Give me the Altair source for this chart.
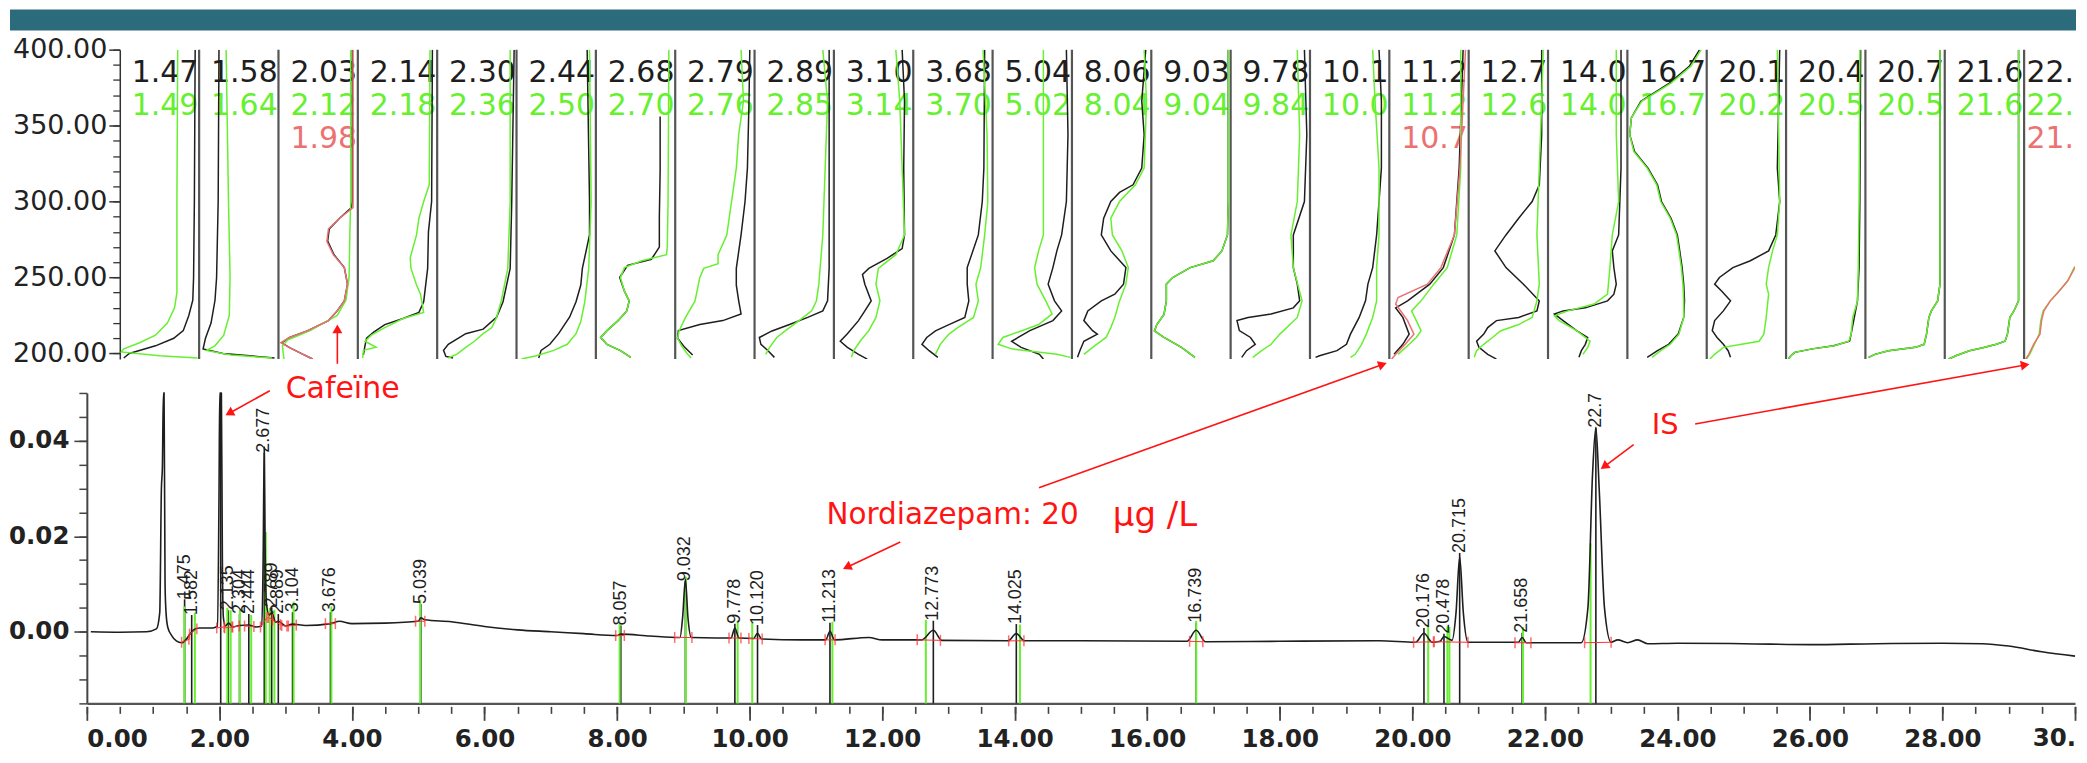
import math
import altair as alt
import pandas as pd

# ---------------- colours ----------------
BANNER = "#2c6b7c"
INK = "#1e1e1e"
LIME = "#66f030"
SALMON = "#ec7272"
RED = "#ff1414"

# ---------------- spectra panels (wavelength nm, relative position in panel) ----------------
BLACK_LABELS = ["1.47", "1.58", "2.03", "2.14", "2.30", "2.44", "2.68", "2.79", "2.89", "3.10",
                "3.68", "5.04", "8.06", "9.03", "9.78", "10.1", "11.2", "12.7", "14.0", "16.7",
                "20.1", "20.4", "20.7", "21.6", "22."]
GREEN_LABELS = ["1.49", "1.64", "2.12", "2.18", "2.36", "2.50", "2.70", "2.76", "2.85", "3.14",
                "3.70", "5.02", "8.04", "9.04", "9.84", "10.0", "11.2", "12.6", "14.0", "16.7",
                "20.2", "20.5", "20.5", "21.6", "22."]
RED_PANELS = [2, 16, 24]
RED_LABELS = ["1.98", "10.7", "21."]

GREEN_CURVES = [
    [(400, 0.73), (300, 0.72), (240, 0.72), (230, 0.69), (220, 0.60), (212, 0.45), (207, 0.25), (203, 0.05), (201, 0.02), (198.5, 0.5), (197, 0.98)],
    [(400, 0.34), (300, 0.37), (250, 0.39), (225, 0.38), (212, 0.31), (205, 0.20), (202, 0.09), (199, 0.40), (197, 0.92)],
    [(400, 0.91), (300, 0.91), (280, 0.90), (250, 0.89), (235, 0.85), (225, 0.74), (215, 0.40), (209, 0.12), (205, 0.05), (200, 0.06), (196.3, 0.07)],
    [(400, 0.91), (311, 0.90), (300, 0.83), (289, 0.77), (278, 0.74), (263, 0.66), (256, 0.67), (245, 0.74), (239, 0.79), (227, 0.83), (223, 0.57), (217, 0.34), (212, 0.17), (208, 0.09), (204, 0.23), (202, 0.07), (197, 0.06)],
    [(400, 0.92), (300, 0.92), (256, 0.89), (235, 0.81), (224, 0.75), (217, 0.69), (213, 0.58), (208, 0.47), (204, 0.36), (199.5, 0.25), (197, 0.14)],
    [(400, 0.92), (300, 0.94), (256, 0.91), (234, 0.86), (221, 0.81), (213, 0.75), (206, 0.64), (202, 0.47), (198.5, 0.25), (196.3, 0.06)],
    [(400, 0.92), (300, 0.91), (270, 0.90), (265, 0.89), (261, 0.58), (256.5, 0.36), (250, 0.31), (241, 0.36), (234.6, 0.42), (228, 0.39), (221.6, 0.28), (215, 0.14), (210.5, 0.06), (206, 0.14), (201.8, 0.31), (197.4, 0.44)],
    [(400, 0.83), (366, 0.86), (344, 0.80), (322, 0.77), (300, 0.71), (278, 0.65), (265, 0.54), (259, 0.54), (256, 0.36), (250, 0.31), (234.6, 0.25), (223.7, 0.13), (215, 0.05), (210, 0.03), (205, 0.08), (200, 0.15), (197, 0.20)],
    [(400, 0.86), (366, 0.92), (322, 0.89), (278, 0.86), (245.6, 0.81), (234.6, 0.78), (228, 0.72), (221.6, 0.56), (215, 0.39), (210.5, 0.28), (204, 0.19), (199.4, 0.14)],
    [(400, 0.78), (366, 0.83), (322, 0.86), (278, 0.89), (265, 0.78), (256, 0.56), (245.6, 0.53), (234.6, 0.58), (223.7, 0.53), (215, 0.44), (208, 0.33), (201.8, 0.25), (197.4, 0.22)],
    [(400, 0.88), (344, 0.93), (300, 0.94), (278, 0.90), (256.5, 0.85), (245.6, 0.79), (234.6, 0.82), (223.7, 0.76), (217, 0.56), (212.7, 0.45), (206, 0.34), (199.4, 0.28)],
    [(400, 0.64), (300, 0.64), (278, 0.64), (267.5, 0.58), (256.5, 0.53), (245.6, 0.56), (234.6, 0.67), (226, 0.75), (219, 0.58), (214.8, 0.36), (210.5, 0.13), (206, 0.07), (203, 0.24), (199.4, 0.81), (197.4, 0.98)],
    [(400, 0.91), (366, 0.94), (322, 0.91), (311, 0.80), (300, 0.60), (289, 0.49), (278, 0.51), (267.5, 0.63), (256.5, 0.71), (245.6, 0.68), (234.6, 0.60), (223.7, 0.54), (217, 0.49), (210.5, 0.43), (204, 0.26), (199.4, 0.15)],
    [(400, 0.97), (300, 0.97), (278, 0.96), (267.5, 0.89), (261, 0.78), (256.5, 0.49), (250, 0.27), (245.6, 0.19), (234.6, 0.19), (225.7, 0.16), (219, 0.07), (214.8, 0.04), (210.5, 0.16), (204, 0.38), (197.4, 0.55)],
    [(400, 0.84), (344, 0.87), (300, 0.84), (278, 0.76), (256.5, 0.79), (234.6, 0.90), (223.7, 0.84), (212.7, 0.62), (206, 0.51), (201.8, 0.39), (197.4, 0.28)],
    [(400, 0.79), (366, 0.82), (322, 0.87), (278, 0.87), (256.5, 0.84), (234.6, 0.84), (223.7, 0.79), (212.7, 0.71), (206, 0.65), (199.4, 0.57), (197.4, 0.51)],
    [(400, 0.90), (322, 0.90), (278, 0.85), (256.5, 0.73), (245.6, 0.56), (234.6, 0.40), (228, 0.28), (221.6, 0.34), (215, 0.40), (210.5, 0.34), (206, 0.25), (199.4, 0.11)],
    [(400, 0.94), (366, 0.92), (322, 0.89), (278, 0.86), (245.6, 0.89), (234.6, 0.86), (223.7, 0.80), (219, 0.63), (214.8, 0.40), (210.5, 0.30), (206, 0.19), (201.8, 0.10), (197.4, 0.07)],
    [(400, 0.86), (344, 0.86), (300, 0.89), (278, 0.81), (256.5, 0.78), (239, 0.75), (232.5, 0.58), (228, 0.25), (224.7, 0.08), (221.6, 0.14), (215, 0.36), (208, 0.53), (204, 0.50), (199.4, 0.44)],
    [(400, 0.93), (389, 0.80), (378, 0.55), (366, 0.18), (355, 0.05), (344, 0.03), (333, 0.08), (322, 0.25), (311, 0.37), (300, 0.42), (289, 0.54), (278, 0.62), (267.5, 0.65), (256.5, 0.68), (245.6, 0.70), (234.6, 0.71), (223.7, 0.71), (212.7, 0.65), (206, 0.54), (201.8, 0.42), (197.4, 0.31)],
    [(400, 0.89), (300, 0.92), (278, 0.89), (267.5, 0.83), (256.5, 0.78), (245.6, 0.75), (239, 0.78), (223.7, 0.75), (212.7, 0.72), (208, 0.66), (206, 0.44), (204, 0.21), (199.4, 0.10), (196.3, 0.04)],
    [(400, 0.93), (300, 0.92), (256.5, 0.91), (234.6, 0.90), (223.7, 0.84), (212.7, 0.82), (208, 0.79), (205, 0.61), (203, 0.33), (200.7, 0.11), (198.5, 0.06), (196.3, 0.03)],
    [(400, 0.94), (300, 0.94), (245.6, 0.94), (234.6, 0.91), (227.8, 0.83), (223.7, 0.80), (212.7, 0.77), (206, 0.74), (204, 0.63), (201.8, 0.29), (199.4, 0.12), (197.4, 0.04)],
    [(400, 0.93), (300, 0.93), (234.6, 0.93), (227.8, 0.87), (223.7, 0.82), (212.7, 0.79), (208, 0.76), (206, 0.65), (203.8, 0.48), (201.8, 0.31), (198.5, 0.14), (196.3, 0.05)],
    [(196.3, 0.03), (199.4, 0.07), (206, 0.13), (212.7, 0.19), (221.6, 0.21), (228, 0.24), (234.6, 0.33), (241, 0.44), (247.8, 0.55), (256.5, 0.63), (263, 0.76), (275, 0.90), (300, 0.95), (400, 0.96)],
]

BLACK_CURVES = [
    [(400, 0.95), (300, 0.94), (250, 0.93), (235, 0.92), (225, 0.87), (215, 0.80), (210, 0.68), (205, 0.45), (200, 0.12), (197, 0.05)],
    [(400, 0.25), (300, 0.24), (250, 0.22), (235, 0.20), (220, 0.15), (210, 0.08), (203, 0.05), (200, 0.30), (197, 0.95)],
    [(400, 0.93), (300, 0.93), (296, 0.92), (289, 0.77), (282, 0.64), (274, 0.62), (265, 0.70), (256.5, 0.83), (245.6, 0.87), (234.6, 0.83), (228, 0.74), (221.6, 0.63), (215, 0.37), (210.5, 0.14), (207, 0.04), (203.8, 0.14), (199.4, 0.31), (196.3, 0.43)],
    [(400, 0.94), (300, 0.93), (280, 0.89), (256, 0.88), (234, 0.83), (227, 0.77), (223, 0.57), (219, 0.34), (214, 0.20), (210, 0.11), (205, 0.09), (199, 0.07)],
    [(400, 0.97), (300, 0.94), (256, 0.92), (234, 0.83), (224, 0.75), (216, 0.58), (213, 0.36), (206, 0.14), (202, 0.08), (198, 0.11), (197, 0.20)],
    [(400, 0.89), (300, 0.92), (278, 0.92), (256, 0.83), (245, 0.81), (234, 0.75), (224, 0.67), (213, 0.53), (206, 0.42), (202, 0.31), (197, 0.28)],
    [(356, 0.81), (320, 0.81), (290, 0.80), (270, 0.80), (262, 0.70), (258, 0.40), (250, 0.30), (241, 0.36), (234.6, 0.42), (228, 0.39), (221.6, 0.28), (215, 0.14), (210.5, 0.06), (206, 0.14), (201.8, 0.31), (197.4, 0.44)],
    [(400, 0.94), (366, 0.93), (322, 0.91), (300, 0.88), (278, 0.83), (267, 0.80), (256, 0.77), (245, 0.77), (234.6, 0.80), (226, 0.83), (221.6, 0.60), (219, 0.31), (215, 0.04), (210, 0.03), (204, 0.12), (199, 0.22)],
    [(400, 0.94), (300, 0.94), (256, 0.94), (234.6, 0.92), (228, 0.86), (223.7, 0.67), (219, 0.44), (214.8, 0.22), (210.5, 0.06), (206, 0.08), (201.8, 0.17), (197.4, 0.25)],
    [(400, 0.86), (366, 0.89), (322, 0.88), (278, 0.89), (269, 0.86), (262.6, 0.67), (256, 0.44), (252, 0.36), (245.6, 0.39), (234.6, 0.47), (228, 0.39), (221.6, 0.31), (213, 0.17), (208, 0.08), (204, 0.17), (199.4, 0.31), (196.3, 0.42)],
    [(400, 0.90), (322, 0.89), (300, 0.87), (278, 0.82), (256.5, 0.68), (245.6, 0.68), (234.6, 0.70), (223.7, 0.65), (219, 0.45), (214.8, 0.28), (210.5, 0.17), (206, 0.11), (201.8, 0.20), (197.4, 0.31)],
    [(400, 0.93), (344, 0.95), (300, 0.93), (278, 0.87), (267.5, 0.81), (256.5, 0.76), (245.6, 0.70), (234.6, 0.78), (228, 0.87), (221.6, 0.76), (215, 0.47), (208, 0.24), (204, 0.36), (199.4, 0.59), (196.3, 0.64)],
    [(400, 0.93), (366, 0.88), (344, 0.91), (322, 0.88), (311, 0.77), (306, 0.60), (300, 0.49), (289, 0.40), (278, 0.37), (267.5, 0.49), (256.5, 0.68), (245.6, 0.65), (239, 0.54), (234.6, 0.37), (228, 0.20), (221.6, 0.15), (215, 0.26), (212.7, 0.32), (208, 0.15), (201.8, 0.10), (197.4, 0.07)],
    GREEN_CURVES[13],
    [(400, 0.93), (344, 0.96), (300, 0.93), (278, 0.79), (256.5, 0.79), (245.6, 0.84), (234.6, 0.87), (230, 0.79), (226, 0.51), (223.7, 0.22), (221.6, 0.08), (215, 0.11), (210.5, 0.25), (206, 0.31), (201.8, 0.20), (197.4, 0.14)],
    [(400, 0.87), (366, 0.90), (322, 0.90), (278, 0.84), (256.5, 0.79), (245.6, 0.73), (234.6, 0.70), (223.7, 0.62), (212.7, 0.51), (206, 0.46), (201.8, 0.34), (198.5, 0.12), (197.4, 0.07)],
    [(400, 0.93), (322, 0.88), (278, 0.82), (256.5, 0.68), (245.6, 0.51), (234.6, 0.23), (230, 0.08), (223.7, 0.17), (212.7, 0.25), (206, 0.17), (199.4, 0.06)],
    [(400, 0.92), (344, 0.92), (311, 0.89), (300, 0.80), (289, 0.63), (278, 0.47), (267.5, 0.33), (256.5, 0.47), (245.6, 0.69), (234.6, 0.89), (228, 0.86), (223.7, 0.63), (221.6, 0.35), (217, 0.24), (212.7, 0.19), (208, 0.10), (204, 0.13), (199.4, 0.24), (196.3, 0.35)],
    [(400, 0.92), (322, 0.92), (278, 0.89), (267.5, 0.81), (256.5, 0.83), (245.6, 0.86), (239, 0.83), (234.6, 0.75), (230, 0.47), (228, 0.19), (226, 0.08), (221.6, 0.19), (215, 0.36), (210.5, 0.50), (206, 0.47), (201.8, 0.42), (197.4, 0.39)],
    [(400, 0.91), (389, 0.78), (378, 0.53), (366, 0.17), (355, 0.05), (344, 0.03), (333, 0.09), (322, 0.26), (311, 0.38), (300, 0.43), (289, 0.55), (278, 0.63), (267.5, 0.66), (256.5, 0.69), (245.6, 0.71), (234.6, 0.72), (223.7, 0.71), (212.7, 0.64), (206, 0.52), (201.8, 0.38), (197.4, 0.25)],
    [(400, 0.92), (322, 0.89), (300, 0.92), (278, 0.87), (267.5, 0.78), (261, 0.55), (256.5, 0.33), (250, 0.16), (245.6, 0.10), (241, 0.19), (234.6, 0.30), (228, 0.21), (221.6, 0.10), (215, 0.07), (210.5, 0.13), (206, 0.21), (201.8, 0.27), (197.4, 0.30)],
    [(400, 0.94), (300, 0.93), (256.5, 0.92), (234.6, 0.90), (223.7, 0.86), (212.7, 0.82), (208, 0.80), (205, 0.60), (203, 0.33), (200.7, 0.11), (198.5, 0.06), (196.3, 0.03)],
    GREEN_CURVES[22],
    GREEN_CURVES[23],
    None,
]

RED_CURVES = [
    [(400, 0.94), (296, 0.94), (289, 0.77), (282, 0.63), (273.7, 0.61), (265, 0.69), (256.5, 0.83), (245.6, 0.87), (234.6, 0.83), (228, 0.74), (221.6, 0.63), (215, 0.37), (210.5, 0.14), (207, 0.03), (203.8, 0.14), (199.4, 0.31), (196.3, 0.43)],
    [(400, 0.96), (322, 0.89), (278, 0.82), (256.5, 0.65), (245.6, 0.48), (236.8, 0.11), (232.5, 0.08), (221.6, 0.23), (212.7, 0.31), (206, 0.20), (199.4, 0.08), (196.3, 0.03)],
    [(196.3, 0.02), (199.4, 0.06), (206, 0.12), (212.7, 0.20), (221.6, 0.22), (228, 0.25), (234.6, 0.33), (241, 0.44), (247.8, 0.55), (256.5, 0.64), (263, 0.76), (275, 0.90), (300, 0.95), (400, 0.96)],
]

# ---------------- chromatogram ----------------
TRACE_T = [0.06, 0.5, 0.9, 1.05, 1.10, 1.125, 1.14, 1.155, 1.165, 1.18, 1.195, 1.22, 1.28, 1.35, 1.43,
           1.50, 1.56, 1.62, 1.70, 1.90, 1.97, 1.995, 2.005, 2.03, 2.045, 2.06, 2.09, 2.14, 2.20, 2.30,
           2.44, 2.55, 2.64, 2.66, 2.677, 2.69, 2.71, 2.75, 2.79, 2.85, 2.89, 3.00, 3.10, 3.30, 3.676,
           3.81, 4.0, 4.5, 5.0, 5.04, 5.1, 5.5, 6.0, 6.5, 7.0, 7.5, 8.0, 8.057, 8.5, 8.95,
           8.99, 9.032, 9.07, 9.12, 9.5, 9.72, 9.778, 9.84, 10.06, 10.12, 10.18, 10.8, 11.15, 11.213, 11.28,
           11.8, 12.0, 12.6, 12.773, 12.9, 13.9, 14.025, 14.15, 15.0, 16.6, 16.739, 16.88, 18.0, 19.5, 20.05,
           20.176, 20.3, 20.42, 20.478, 20.6, 20.66, 20.715, 20.77, 20.84, 21.6, 21.658, 21.72, 22.55, 22.65, 22.72,
           22.77, 22.82, 22.9, 23.0, 23.1, 23.25, 23.4, 23.55, 24.0, 25.0, 26.0, 27.0, 28.0, 28.6, 29.0,
           29.5, 30.0]
TRACE_A = [0.0000, -0.0001, 0.0000, 0.0006, 0.0040, 0.0300, 0.0345, 0.0500, 0.0500, 0.0100, 0.0040, 0.0010, -0.0008, -0.0019, -0.0023,
           -0.0016, -0.0004, 0.0005, 0.0008, 0.0008, 0.0012, 0.0300, 0.0500, 0.0500, 0.0150, 0.0030, 0.0012, 0.0018, 0.0010, 0.0013,
           0.0014, 0.0010, 0.0012, 0.0150, 0.0386, 0.0180, 0.0060, 0.0035, 0.0040, 0.0020, 0.0022, 0.0012, 0.0016, 0.0013, 0.0017,
           0.0022, 0.0017, 0.0018, 0.0022, 0.0029, 0.0025, 0.0021, 0.0011, 0.0004, 0.0000, -0.0004, -0.0008, -0.0005, -0.0009, -0.0012,
           0.0030, 0.0110, 0.0030, -0.0012, -0.0013, -0.0013, 0.0008, -0.0013, -0.0014, -0.0003, -0.0015, -0.0017, -0.0017, 0.0001, -0.0017,
           -0.0012, -0.0017, -0.0017, 0.0003, -0.0018, -0.0019, -0.0004, -0.0019, -0.0019, -0.0020, 0.0003, -0.0021, -0.0020, -0.0019, -0.0022,
           -0.0003, -0.0022, -0.0020, -0.0010, -0.0018, 0.0040, 0.0157, 0.0040, -0.0022, -0.0022, -0.0012, -0.0023, -0.0023, 0.0050, 0.0330,
           0.0428, 0.0300, 0.0050, -0.0022, -0.0017, -0.0023, -0.0017, -0.0025, -0.0024, -0.0025, -0.0027, -0.0025, -0.0024, -0.0025, -0.0030,
           -0.0042, -0.0051]
assert len(TRACE_T) == len(TRACE_A)

PEAK_LABELS = ["1.475", "1.582", "2.135", "2.304", "2.444", "2.677", "2.789", "2.889", "3.104", "3.676",
               "5.039", "8.057", "9.032", "9.778", "10.120", "11.213", "12.773", "14.025", "16.739",
               "20.176", "20.478", "20.715", "21.658", "22.7"]
PEAK_T = [1.475, 1.582, 2.135, 2.304, 2.444, 2.677, 2.789, 2.889, 3.104, 3.676,
          5.039, 8.057, 9.032, 9.778, 10.120, 11.213, 12.773, 14.025, 16.739,
          20.176, 20.478, 20.715, 21.658, 22.77]
PEAK_TOP = [0.0068, 0.0035, 0.0045, 0.0037, 0.0037, 0.0375, 0.0051, 0.0037, 0.0041, 0.0041,
            0.0058, 0.0013, 0.0106, 0.0017, 0.0014, 0.0019, 0.0023, 0.0016, 0.0019,
            0.0008, -0.0004, 0.0165, -0.0002, 0.0427]
CAFFEINE_T = [2.02]
CAFFEINE_TOP = [0.05]

GREEN_T = [1.47, 1.63, 2.12, 2.17, 2.31, 2.48, 2.70, 2.76, 2.83, 3.12, 3.69, 5.03, 8.04, 9.04, 9.82,
           10.04, 11.25, 12.66, 14.08, 16.74, 20.24, 20.53, 20.56, 21.67, 22.69]
GREEN_TOP = [0.0053, 0.0040, 0.0050, 0.0045, 0.0046, 0.0035, 0.0209, 0.0050, 0.0046, 0.0063, 0.0053, 0.0067, 0.0019, 0.0115, 0.0021,
             0.0019, 0.0021, 0.0025, 0.0015, 0.0023, 0.0011, 0.0011, 0.0010, 0.0010, 0.0185]

INT_START = [1.43, 1.55, 1.96, 2.08, 2.20, 2.38, 2.62, 2.74, 2.80, 2.94, 3.04, 3.60, 4.96, 7.98, 8.87,
             9.69, 9.99, 11.14, 12.53, 13.91, 16.64, 20.02, 20.33, 21.55, 22.60]
INT_END = [1.54, 1.66, 2.07, 2.19, 2.30, 2.52, 2.72, 2.80, 2.92, 3.02, 3.16, 3.75, 5.10, 8.11, 9.13,
           9.87, 10.19, 11.29, 12.88, 14.14, 16.84, 20.32, 20.84, 21.79, 23.00]
INT_SV = [-0.0022, -0.0005, 0.0008, 0.0008, 0.0010, 0.0012, 0.0010, 0.0030, 0.0025, 0.0013, 0.0012, 0.0017, 0.0022, -0.0008, -0.0012,
          -0.0013, -0.0014, -0.0017, -0.0017, -0.0019, -0.0020, -0.0022, -0.0021, -0.0023, -0.0023]
INT_EV = [-0.0016, 0.0006, 0.0010, 0.0010, 0.0012, 0.0011, 0.0030, 0.0025, 0.0015, 0.0012, 0.0014, 0.0017, 0.0022, -0.0008, -0.0012,
          -0.0013, -0.0015, -0.0017, -0.0018, -0.0019, -0.0021, -0.0021, -0.0022, -0.0023, -0.0022]

# annotations (in chromatogram data units: minutes, AU)
ANNOT_TEXT = ["Cafeïne", "Nordiazepam: 20", "µg /L", "IS"]
ANNOT_T = [3.000, 11.160, 15.482, 23.614]
ANNOT_V = [0.04902, 0.02247, 0.02206, 0.04149]
ANNOT_SIZE = [30, 29.5, 34, 29]

ARROW_T0 = [2.761, 3.780, 12.274, 14.367, 23.340, 24.268]
ARROW_V0 = [0.05048, 0.05612, 0.01878, 0.03014, 0.03919, 0.04352]
ARROW_T1 = [2.083, 3.780, 11.401, 19.623, 22.836, 29.322]
ARROW_V1 = [0.04526, 0.06448, 0.01307, 0.05633, 0.03397, 0.05606]

# ---------------- layout ----------------
W = 1992
SPEC_H = 310
CHROM_H = 311
GAP = 34
PANEL_PX = 79.5
AXIS_SHIFT = 33                      # spectra axis sits 33px right of the chromatogram axis
X_LEFT = -AXIS_SHIFT / PANEL_PX
X_RIGHT = X_LEFT + W / PANEL_PX
WL_MIN = 196.3
LABEL_F = 0.15
ROW_WL = [384.6, 362.7, 340.9]
FONT = "DejaVu Sans"
AX_FS = 24.5

xs = alt.Scale(domain=[X_LEFT, X_RIGHT], nice=False, zero=False)
ys = alt.Scale(domain=[WL_MIN, 400], nice=False, zero=False)


def curve_df(curves, panels, tag):
    rows = []
    for k, pts in zip(panels, curves):
        if pts is None:
            continue
        for i, (wl, f) in enumerate(pts):
            rows.append({"key": f"{tag}{k}", "idx": i, "wl": wl, "x": k + f})
    return pd.DataFrame(rows)


black_df = curve_df(BLACK_CURVES, range(25), "b")
green_df = curve_df(GREEN_CURVES, range(25), "g")
red_df = curve_df(RED_CURVES, RED_PANELS, "r")

spec_major = alt.Axis(values=[200, 250, 300, 350, 400], format=".2f", orient="left", offset=-AXIS_SHIFT,
                      tickSize=11, tickWidth=1.5, tickColor="#333", domainColor="#333", domainWidth=1.5,
                      labelFont=FONT, labelFontSize=27, labelColor="#222", labelPadding=2, grid=False, title=None)
spec_minor = alt.Axis(values=list(range(200, 401, 10)), labels=False, domain=False, orient="left",
                      offset=-AXIS_SHIFT, tickSize=7, tickWidth=1.3, tickColor="#333", grid=False, title=None)


def spec_line(df, color, axis):
    return alt.Chart(df).mark_line(color=color, strokeWidth=1.5, clip=True).encode(
        x=alt.X("x:Q", scale=xs, axis=None),
        y=alt.Y("wl:Q", scale=ys, axis=axis),
        detail="key:N",
        order="idx:Q",
    )


lab_rows = []
for k in range(25):
    lab_rows.append({"k": k, "wl": ROW_WL[0], "t": BLACK_LABELS[k], "s": "b"})
    lab_rows.append({"k": k, "wl": ROW_WL[1], "t": GREEN_LABELS[k], "s": "g"})
for k, t in zip(RED_PANELS, RED_LABELS):
    lab_rows.append({"k": k, "wl": ROW_WL[2], "t": t, "s": "r"})
labels_df = pd.DataFrame(lab_rows)
labels_df["x"] = labels_df["k"] + LABEL_F
last_panel = labels_df["k"] == 24
labels_df.loc[last_panel, "x"] = X_RIGHT

label_color = alt.Color("s:N", scale=alt.Scale(domain=["b", "g", "r"], range=[INK, LIME, SALMON]), legend=None)


def label_layer(df, align, dx):
    return alt.Chart(df).mark_text(font=FONT, fontSize=30, align=align, baseline="middle", dx=dx).encode(
        x=alt.X("x:Q", scale=xs, axis=None),
        y=alt.Y("wl:Q", scale=ys, axis=None),
        text="t:N",
        color=label_color,
    )


spec_labels = label_layer(labels_df[~last_panel], "left", 0)
spec_labels_last = label_layer(labels_df[last_panel], "right", -1)

sep_df = pd.DataFrame({"x": list(range(1, 25)), "top": [400] * 24, "bot": [WL_MIN] * 24})
separators = alt.Chart(sep_df).mark_rule(color="#555", strokeWidth=2.2).encode(
    x=alt.X("x:Q", scale=xs, axis=None),
    y=alt.Y("top:Q", scale=ys, axis=spec_major),
    y2="bot:Q",
)

banner = alt.Chart(pd.DataFrame({"a": [0]})).mark_rect(color=BANNER).encode(
    x=alt.value(-77), x2=alt.value(W + 1), y=alt.value(-40.3), y2=alt.value(-19.3)
)

spectra = alt.layer(
    banner,
    spec_labels,
    spec_labels_last,
    spec_line(black_df, INK, spec_minor),
    spec_line(green_df, LIME, None),
    spec_line(red_df, SALMON, None),
    separators,
).resolve_axis(y="independent").properties(width=W, height=SPEC_H)

# ---------------- chromatogram chart ----------------
xc = alt.Scale(domain=[0, 30], nice=False, zero=False)
yc = alt.Scale(domain=[-0.015, 0.05], nice=False, zero=False)

X_LAB_PAD = 7
x_domain_axis = alt.Axis(orient="bottom", ticks=False, labels=False, domain=True, domainWidth=2.5,
                         domainColor="#555", grid=False, title=None)
x_major_axis = alt.Axis(orient="bottom", values=list(range(0, 31, 2)), format=".2f",
                        labelExpr="datum.value >= 30 ? '' : datum.label", offset=3, domain=False,
                        tickSize=14, tickWidth=1.8, tickColor="#444", labelFont=FONT, labelFontSize=AX_FS,
                        labelFontWeight="bold", labelColor="#222", labelPadding=X_LAB_PAD, grid=False, title=None)
x_minor_axis = alt.Axis(orient="bottom", values=[i * 0.5 for i in range(61)], labels=False, domain=False,
                        offset=3, tickSize=7, tickWidth=1.6, tickColor="#444", grid=False, title=None)
y_major_axis = alt.Axis(orient="left", values=[0, 0.02, 0.04], format=".2f", tickSize=13, tickWidth=1.6,
                        tickColor="#444", domainColor="#444", domainWidth=2, labelFont=FONT, labelFontSize=AX_FS,
                        labelFontWeight="bold", labelColor="#222", labelPadding=5, grid=False, title=None)
y_minor_axis = alt.Axis(orient="left", values=[round(-0.015 + 0.005 * i, 3) for i in range(14)], labels=False,
                        domain=False, tickSize=8, tickWidth=1.5, tickColor="#444", grid=False, title=None)

trace_df = pd.DataFrame({"t": TRACE_T, "a": TRACE_A})
trace = alt.Chart(trace_df).mark_line(color=INK, strokeWidth=1.6, interpolate="monotone").encode(
    x=alt.X("t:Q", scale=xc, axis=x_domain_axis),
    y=alt.Y("a:Q", scale=yc, axis=y_major_axis),
)

black_lines_df = pd.DataFrame({"t": PEAK_T + CAFFEINE_T, "top": PEAK_TOP + CAFFEINE_TOP})
black_lines = alt.Chart(black_lines_df).mark_rule(color=INK, strokeWidth=1.6).encode(
    x=alt.X("t:Q", scale=xc, axis=x_major_axis),
    y=alt.Y("top:Q", scale=yc, axis=y_minor_axis),
    y2=alt.datum(-0.015),
)

green_lines_df = pd.DataFrame({"t": GREEN_T, "top": GREEN_TOP})
green_lines = alt.Chart(green_lines_df).mark_rule(color=LIME, strokeWidth=2).encode(
    x=alt.X("t:Q", scale=xc, axis=x_minor_axis),
    y=alt.Y("top:Q", scale=yc, axis=None),
    y2=alt.datum(-0.015),
)

int_df = pd.DataFrame({"t0": INT_START, "t1": INT_END, "v0": INT_SV, "v1": INT_EV})
int_rules = alt.Chart(int_df).mark_rule(color="#ff3030", strokeWidth=1).encode(
    x=alt.X("t0:Q", scale=xc, axis=None), x2="t1:Q",
    y=alt.Y("v0:Q", scale=yc, axis=None), y2="v1:Q",
)
int_ticks_df = pd.DataFrame({"t": INT_START + INT_END, "v": INT_SV + INT_EV})
int_ticks = alt.Chart(int_ticks_df).mark_tick(color="#ff3030", orient="vertical", size=11, thickness=1.5).encode(
    x=alt.X("t:Q", scale=xc, axis=None),
    y=alt.Y("v:Q", scale=yc, axis=None),
)

peak_df = pd.DataFrame({"t": PEAK_T, "v": PEAK_TOP, "lab": PEAK_LABELS})
peak_labels = alt.Chart(peak_df).mark_text(font="Liberation Sans", fontSize=18, angle=270, align="left",
                                           baseline="middle", color=INK).encode(
    x=alt.X("t:Q", scale=xc, axis=None),
    y=alt.Y("v:Q", scale=yc, axis=None),
    text="lab:N",
)

annot_df = pd.DataFrame({"t": ANNOT_T, "v": ANNOT_V, "txt": ANNOT_TEXT, "s": ANNOT_SIZE})
annot = alt.Chart(annot_df).mark_text(font=FONT, align="left", baseline="alphabetic", color=RED).encode(
    x=alt.X("t:Q", scale=xc, axis=None),
    y=alt.Y("v:Q", scale=yc, axis=None),
    text="txt:N",
    size=alt.Size("s:Q", scale=None),
)

PX_MIN = W / 30.0
PX_AU = CHROM_H / 0.065
heads = []
for t0, v0, t1, v1 in zip(ARROW_T0, ARROW_V0, ARROW_T1, ARROW_V1):
    dx = (t1 - t0) * PX_MIN
    dy = -(v1 - v0) * PX_AU
    L = math.hypot(dx, dy)
    ux, uy = dx / L, dy / L
    heads.append({"t": t1 - 5 * ux / PX_MIN, "v": v1 + 5 * uy / PX_AU,
                  "ang": math.degrees(math.atan2(dx, -dy)) % 360})
heads_df = pd.DataFrame(heads)
arrows_df = pd.DataFrame({"t0": ARROW_T0, "v0": ARROW_V0, "t1": heads_df["t"], "v1": heads_df["v"]})

arrow_lines = alt.Chart(arrows_df).mark_rule(color=RED, strokeWidth=1.6).encode(
    x=alt.X("t0:Q", scale=xc, axis=None), x2="t1:Q",
    y=alt.Y("v0:Q", scale=yc, axis=None), y2="v1:Q",
)
arrow_heads = alt.Chart(heads_df).mark_point(shape="triangle-up", filled=True, size=100, color=RED,
                                             opacity=1, strokeWidth=0).encode(
    x=alt.X("t:Q", scale=xc, axis=None),
    y=alt.Y("v:Q", scale=yc, axis=None),
    angle=alt.Angle("ang:Q", scale=None),
)

last_label = alt.Chart(pd.DataFrame({"t": [30], "lab": ["30."]})).mark_text(
    font=FONT, fontSize=AX_FS, fontWeight="bold", align="right", baseline="top", dx=1, color="#222"
).encode(
    x=alt.X("t:Q", scale=xc, axis=None),
    y=alt.value(CHROM_H + 3 + 14 + X_LAB_PAD),
    text="lab:N",
)

chrom = alt.layer(
    black_lines, green_lines, trace, int_rules, int_ticks, peak_labels,
    arrow_lines, arrow_heads, annot, last_label,
).resolve_axis(x="independent", y="independent").properties(width=W, height=CHROM_H)

chart = alt.vconcat(spectra, chrom, spacing=GAP, bounds="flush", padding=0).configure_view(stroke=None)

chart.save("out.html", embed_options={"renderer": "svg", "actions": False})
